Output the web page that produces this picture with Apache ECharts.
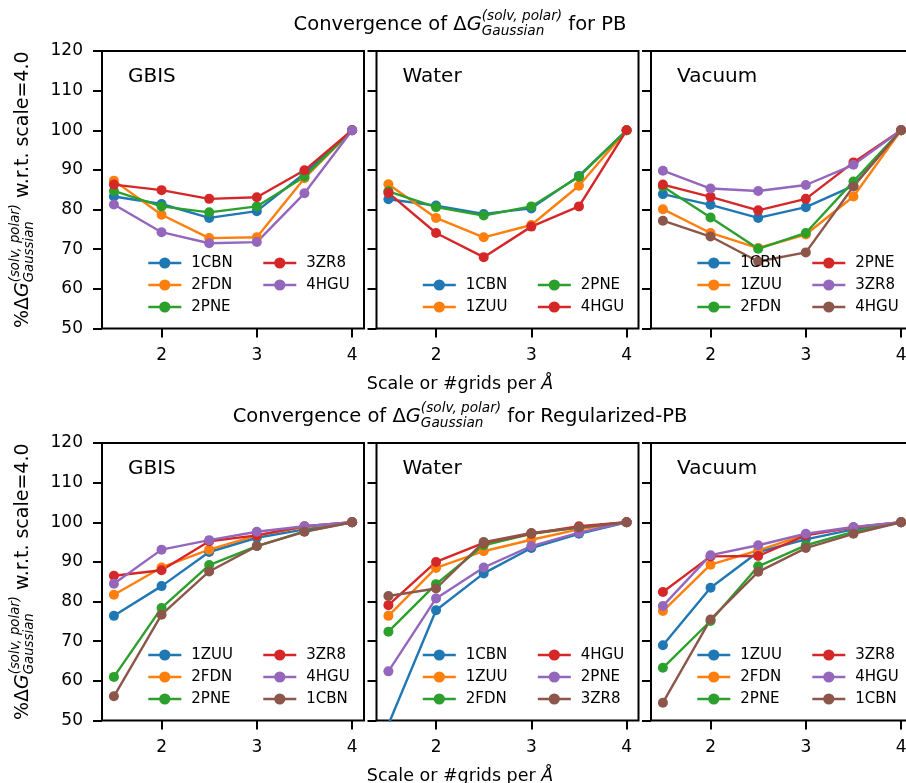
<!DOCTYPE html>
<html>
<head>
<meta charset="utf-8">
<script src="https://cdn.jsdelivr.net/npm/echarts@6/dist/echarts.min.js"></script>
<style>
html,body{margin:0;padding:0;background:#fff;}
#chart{width:906px;height:783px;}
</style>
</head>
<body>
<div id="chart"></div>
<script>
// ---------------- DATA ----------------
const xs = [1.5, 2, 2.5, 3, 3.5, 4];
const xTicks = [2, 3, 4];

const pbGbisNames = ['1CBN', '2FDN', '2PNE', '3ZR8', '4HGU'];
const pbGbisValues = [
  [83.3, 81.4, 77.9, 79.6, 89.1, 100],
  [87.3, 78.7, 72.8, 73.0, 87.9, 100],
  [84.7, 80.8, 79.3, 80.8, 88.3, 100],
  [86.3, 84.9, 82.7, 83.1, 89.9, 100],
  [81.3, 74.3, 71.5, 71.8, 84.1, 100]
];
const pbWaterNames = ['1CBN', '1ZUU', '2PNE', '4HGU'];
const pbWaterValues = [
  [82.6, 81.0, 78.9, 80.3, 88.5, 100],
  [86.4, 77.9, 73.0, 76.1, 86.0, 100],
  [84.6, 80.6, 78.5, 80.8, 88.3, 100],
  [84.2, 74.1, 68.0, 75.7, 80.8, 100]
];
const pbVacuumNames = ['1CBN', '1ZUU', '2FDN', '2PNE', '3ZR8', '4HGU'];
const pbVacuumValues = [
  [83.9, 81.2, 77.9, 80.6, 86.0, 100],
  [80.1, 74.1, 70.3, 73.7, 83.3, 100],
  [85.8, 78.0, 70.1, 74.1, 87.1, 100],
  [86.3, 83.2, 79.8, 82.7, 91.9, 100],
  [89.8, 85.3, 84.7, 86.2, 91.3, 100],
  [77.2, 73.2, 66.9, 69.2, 85.8, 100]
];
const rpbGbisNames = ['1ZUU', '2FDN', '2PNE', '3ZR8', '4HGU', '1CBN'];
const rpbGbisValues = [
  [76.4, 83.9, 92.5, 96.1, 98.2, 100],
  [81.7, 88.6, 93.1, 96.7, 98.8, 100],
  [61.0, 78.4, 89.2, 94.0, 97.7, 100],
  [86.5, 87.9, 95.2, 96.7, 99.0, 100],
  [84.5, 93.1, 95.5, 97.6, 99.0, 100],
  [56.1, 76.7, 87.6, 94.0, 97.6, 100]
];
const rpbWaterNames = ['1CBN', '1ZUU', '2FDN', '4HGU', '2PNE', '3ZR8'];
const rpbWaterValues = [
  [49.0, 77.8, 87.1, 93.5, 97.1, 100],
  [76.4, 88.5, 92.7, 95.6, 98.2, 100],
  [72.4, 84.4, 94.2, 97.1, 98.7, 100],
  [79.1, 90.0, 94.8, 97.1, 99.0, 100],
  [62.4, 80.8, 88.6, 94.0, 97.4, 100],
  [81.4, 83.3, 95.0, 97.3, 98.7, 100]
];
const rpbVacuumNames = ['1ZUU', '2FDN', '2PNE', '3ZR8', '4HGU', '1CBN'];
const rpbVacuumValues = [
  [69.0, 83.5, 92.5, 95.7, 98.2, 100],
  [77.6, 89.3, 92.9, 96.9, 98.7, 100],
  [63.3, 75.1, 88.9, 94.2, 97.6, 100],
  [82.4, 91.4, 91.5, 96.7, 98.7, 100],
  [78.9, 91.7, 94.2, 97.1, 98.8, 100],
  [54.5, 75.5, 87.5, 93.5, 97.1, 100]
];
const panelLabels = ['GBIS', 'Water', 'Vacuum'];
const rowTitles = ['PB', 'Regularized-PB'];
const yMin = 50, yMax = 120, yStep = 10;

// ---------------- STYLE / LAYOUT ----------------
const palette = ['#1f77b4', '#ff7f0e', '#2ca02c', '#d62728', '#9467bd', '#8c564b'];
const FONT = '"DejaVu Sans", sans-serif';
const gridLefts = [102, 376.5, 651];
const gridW = 262;
const gridTops = [51, 443];
const gridH = 277.5;

const panels = [
  {row: 0, col: 0, names: pbGbisNames, values: pbGbisValues},
  {row: 0, col: 1, names: pbWaterNames, values: pbWaterValues},
  {row: 0, col: 2, names: pbVacuumNames, values: pbVacuumValues},
  {row: 1, col: 0, names: rpbGbisNames, values: rpbGbisValues},
  {row: 1, col: 1, names: rpbWaterNames, values: rpbWaterValues},
  {row: 1, col: 2, names: rpbVacuumNames, values: rpbVacuumValues}
];

const grids = [], xAxes = [], yAxes = [], series = [], legends = [], graphics = [];

// text measuring for math-like labels
const mctx = document.createElement('canvas').getContext('2d');
function tw(t, fs, it) { mctx.font = (it ? 'italic ' : '') + fs + 'px "DejaVu Sans"'; return mctx.measureText(t).width; }
function mathGroup(parts, fs, cx, cy, rotation) {
  const ss = fs * 0.7, rise = fs * 0.52, drop = fs * 0.24;
  let w = 0; const items = [];
  parts.forEach(p => {
    if (p.sup !== undefined) {
      items.push({t: p.sup, x: w, dy: -rise, fs: ss, it: true});
      items.push({t: p.sub, x: w, dy: drop, fs: ss, it: true});
      w += Math.max(tw(p.sup, ss, true), tw(p.sub, ss, true));
    } else {
      items.push({t: p.t, x: w, dy: 0, fs: fs, it: !!p.it});
      w += tw(p.t, fs, !!p.it);
    }
  });
  return {
    type: 'group', x: cx, y: cy, rotation: rotation || 0, silent: true,
    children: items.map(it => ({
      type: 'text', x: it.x - w / 2, y: it.dy - 0.36 * it.fs,
      style: {text: it.t, fill: '#000', fontFamily: '"DejaVu Sans"', fontSize: it.fs,
              fontStyle: it.it ? 'italic' : 'normal', align: 'left', verticalAlign: 'middle'}
    }))
  };
}

panels.forEach((p, gi) => {
  const left = gridLefts[p.col], top = gridTops[p.row];
  grids.push({left: left, top: top, width: gridW, height: gridH, show: true,
              outerBoundsMode: 'none', containLabel: false,
              borderColor: '#000', borderWidth: 2, backgroundColor: 'transparent'});
  xAxes.push({
    type: 'value', gridIndex: gi, min: 1.375, max: 4.125,
    axisLine: {show: false},
    splitLine: {show: false},
    axisTick: {show: true, customValues: xTicks, length: 9, lineStyle: {color: '#000', width: 2}},
    axisLabel: {show: true, customValues: xTicks, margin: 19, color: '#000', fontSize: 17, fontFamily: FONT,
                formatter: v => String(v)}
  });
  yAxes.push({
    type: 'value', gridIndex: gi, min: yMin, max: yMax, interval: yStep,
    axisLine: {show: false},
    splitLine: {show: false},
    axisTick: {show: true, length: 9, lineStyle: {color: '#000', width: 2}},
    axisLabel: {show: p.col === 0, margin: 19, color: '#000', fontSize: 17, fontFamily: FONT}
  });
  const key = 'p' + gi + '|';
  p.names.forEach((n, si) => {
    series.push({
      type: 'line', name: key + n, xAxisIndex: gi, yAxisIndex: gi,
      data: xs.map((x, k) => [x, p.values[si][k]]),
      symbol: 'circle', symbolSize: 10, showSymbol: true, clip: true,
      color: palette[si],
      lineStyle: {width: 2.4, color: palette[si]},
      itemStyle: {color: palette[si]},
      emphasis: {disabled: true}, animation: false
    });
  });
  // legends: matplotlib ncol=2, column-major fill
  const n = p.names.length, rows = Math.ceil(n / 2);
  const pitch = 22, itemH = 15;
  const lastRowCenter = top + gridH - 21.5;
  const legTop = lastRowCenter - (rows - 1) * pitch - itemH / 2;
  const cols = [p.names.slice(0, rows), p.names.slice(rows)];
  cols.forEach((c, ci) => {
    legends.push({
      orient: 'vertical', left: left + (ci === 0 ? 45 : 160), top: legTop, padding: 0,
      itemWidth: 33, itemHeight: 14, itemGap: pitch - 15, selectedMode: false,
      lineStyle: {width: 2.6},
      textStyle: {fontSize: 15, fontFamily: FONT, color: '#000', lineHeight: itemH, padding: [0, 0, 0, 5]},
      formatter: nm => nm.split('|')[1],
      data: c.map(nm => key + nm)
    });
  });
  graphics.push({type: 'text', left: left + 26, top: top + 26 - 10, silent: true,
    style: {text: panelLabels[p.col], fill: '#000', fontFamily: FONT, fontSize: 20}});
});

// figure-level titles, x labels and y labels
rowTitles.forEach((t, r) => {
  graphics.push(mathGroup([{t: 'Convergence of Δ'}, {t: 'G', it: true}, {sup: '(solv, polar)', sub: 'Gaussian'}, {t: ' for ' + t}],
    19.5, 460, gridTops[r] - 19));
  graphics.push(mathGroup([{t: 'Scale or #grids per '}, {t: 'Å', it: true}],
    17.5, 460, gridTops[r] + gridH + 62));
  graphics.push(mathGroup([{t: '%Δ'}, {t: 'G', it: true}, {sup: '(solv, polar)', sub: 'Gaussian'}, {t: ' w.r.t. scale=4.0'}],
    19, 30, gridTops[r] + gridH / 2, Math.PI / 2));
});

const chart = echarts.init(document.getElementById('chart'), null, {renderer: 'canvas'});
chart.setOption({
  animation: false,
  backgroundColor: '#fff',
  grid: grids, xAxis: xAxes, yAxis: yAxes, series: series, legend: legends,
  graphic: graphics
});
</script>
</body>
</html>
